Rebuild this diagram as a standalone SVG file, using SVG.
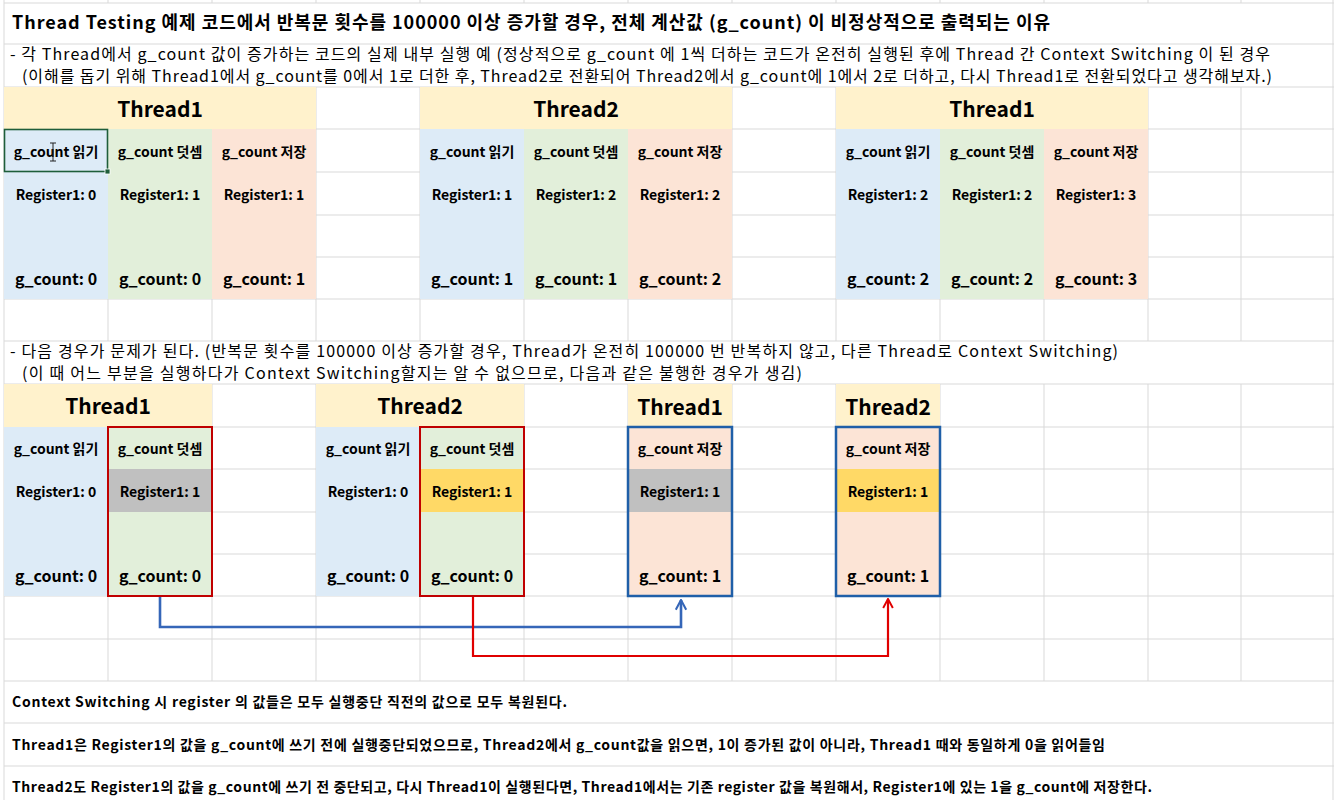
<svg xmlns="http://www.w3.org/2000/svg" width="1334" height="800" viewBox="0 0 1334 800">
<style>
.grid{stroke:#D9D9D9;stroke-width:1;fill:none}
.t{font-family:"Noto Sans CJK KR","Noto Sans",sans-serif;fill:#000}
.title{font-size:18px;font-weight:700}
.desc{font-size:16px;font-weight:400}
.hdr{font-size:21px;font-weight:700;text-anchor:middle;dominant-baseline:central}
.lbl{font-size:14px;font-weight:700;text-anchor:middle;dominant-baseline:central}
.val{font-size:16px;font-weight:700;text-anchor:middle;dominant-baseline:central}
.note{font-size:14px;font-weight:700}
.hf{fill:#FFF2CC}
.blue{fill:#DDEBF7}
.green{fill:#E2EFDA}
.peach{fill:#FCE4D6}
.gray{fill:#C0C0C0}
.yel{fill:#FFD966}
.redbox{fill:none;stroke:#C00000;stroke-width:2}
.bluebox{fill:none;stroke:#1F5FA8;stroke-width:2.5}
</style>
<defs>
<marker id="arB" viewBox="0 0 10 10" refX="9" refY="5" markerWidth="5" markerHeight="5" orient="auto" markerUnits="strokeWidth">
<path d="M1.5,1 L9,5 L1.5,9" fill="none" stroke="#3566B8" stroke-width="1.6"/>
</marker>
<marker id="arR" viewBox="0 0 10 10" refX="9" refY="5" markerWidth="5.5" markerHeight="5.5" orient="auto" markerUnits="strokeWidth">
<path d="M1.5,1 L9,5 L1.5,9" fill="none" stroke="#E00000" stroke-width="1.6"/>
</marker>
</defs>
<rect width="1334" height="800" fill="#FFFFFF"/>
<g id="grid" class="grid">
<path d="M4,3H1334 M4,44H1334 M4,87H1334 M4,129H1334 M4,172H1334 M4,215H1334 M4,257H1334 M4,299H1334 M4,341H1334 M4,384H1334 M4,427H1334 M4,469H1334 M4,512H1334 M4,554H1334 M4,596H1334 M4,639H1334 M4,681H1334 M4,723H1334 M4,766H1334"/>
<path d="M4,0V800 M1333,0V800"/>
<path d="M108,0V3 M212,0V3 M316,0V3 M420,0V3 M524,0V3 M628,0V3 M732,0V3 M836,0V3 M940,0V3 M1044,0V3 M1148,0V3 M1241,0V3"/>
<path d="M108,87V341 M212,87V341 M316,87V341 M420,87V341 M524,87V341 M628,87V341 M732,87V341 M836,87V341 M940,87V341 M1044,87V341 M1148,87V341 M1241,87V341"/>
<path d="M108,384V681 M212,384V681 M316,384V681 M420,384V681 M524,384V681 M628,384V681 M732,384V681 M836,384V681 M940,384V681 M1044,384V681 M1148,384V681 M1241,384V681"/>
</g>
<g id="title">
<text class="t title" x="12" y="29" textLength="1038" lengthAdjust="spacing">Thread Testing 예제 코드에서 반복문 횟수를 100000 이상 증가할 경우, 전체 계산값 (g_count) 이 비정상적으로 출력되는 이유</text>
</g>
<g id="desc1">
<text class="t desc" x="10" y="60" textLength="1260" lengthAdjust="spacing">- 각 Thread에서 g_count 값이 증가하는 코드의 실제 내부 실행 예 (정상적으로 g_count 에 1씩 더하는 코드가 온전히 실행된 후에 Thread 간 Context Switching 이 된 경우</text>
<text class="t desc" x="22" y="82" textLength="1250" lengthAdjust="spacing">(이해를 돕기 위해 Thread1에서 g_count를 0에서 1로 더한 후, Thread2로 전환되어 Thread2에서 g_count에 1에서 2로 더하고, 다시 Thread1로 전환되었다고 생각해보자.)</text>
</g>
<g id="top-thread1">
<rect class="hf" x="4" y="87" width="312" height="42"/>
<rect class="blue" x="4" y="129" width="104" height="170"/>
<rect class="green" x="108" y="129" width="104" height="170"/>
<rect class="peach" x="212" y="129" width="104" height="170"/>
<text class="t hdr" x="160" y="108">Thread1</text>
<text class="t lbl" x="56" y="151">g_count 읽기</text>
<text class="t lbl" x="160" y="151">g_count 덧셈</text>
<text class="t lbl" x="264" y="151">g_count 저장</text>
<text class="t lbl" x="56" y="194">Register1: 0</text>
<text class="t lbl" x="160" y="194">Register1: 1</text>
<text class="t lbl" x="264" y="194">Register1: 1</text>
<text class="t val" x="56" y="278">g_count: 0</text>
<text class="t val" x="160" y="278">g_count: 0</text>
<text class="t val" x="264" y="278">g_count: 1</text>
<rect x="4.5" y="129.5" width="103" height="42" fill="none" stroke="#1E5E3A" stroke-width="1.6"/>
<rect x="105" y="169" width="5" height="5" fill="#1E5E3A" stroke="#FFFFFF" stroke-width="0.8"/>
<path d="M53,143V161 M50,143H56 M50,161H56" stroke="#222" stroke-width="1" fill="none"/>
</g>
<g id="top-thread2">
<rect class="hf" x="420" y="87" width="312" height="42"/>
<rect class="blue" x="420" y="129" width="104" height="170"/>
<rect class="green" x="524" y="129" width="104" height="170"/>
<rect class="peach" x="628" y="129" width="104" height="170"/>
<text class="t hdr" x="576" y="108">Thread2</text>
<text class="t lbl" x="472" y="151">g_count 읽기</text>
<text class="t lbl" x="576" y="151">g_count 덧셈</text>
<text class="t lbl" x="680" y="151">g_count 저장</text>
<text class="t lbl" x="472" y="194">Register1: 1</text>
<text class="t lbl" x="576" y="194">Register1: 2</text>
<text class="t lbl" x="680" y="194">Register1: 2</text>
<text class="t val" x="472" y="278">g_count: 1</text>
<text class="t val" x="576" y="278">g_count: 1</text>
<text class="t val" x="680" y="278">g_count: 2</text>
</g>
<g id="top-thread1b">
<rect class="hf" x="836" y="87" width="312" height="42"/>
<rect class="blue" x="836" y="129" width="104" height="170"/>
<rect class="green" x="940" y="129" width="104" height="170"/>
<rect class="peach" x="1044" y="129" width="104" height="170"/>
<text class="t hdr" x="992" y="108">Thread1</text>
<text class="t lbl" x="888" y="151">g_count 읽기</text>
<text class="t lbl" x="992" y="151">g_count 덧셈</text>
<text class="t lbl" x="1096" y="151">g_count 저장</text>
<text class="t lbl" x="888" y="194">Register1: 2</text>
<text class="t lbl" x="992" y="194">Register1: 2</text>
<text class="t lbl" x="1096" y="194">Register1: 3</text>
<text class="t val" x="888" y="278">g_count: 2</text>
<text class="t val" x="992" y="278">g_count: 2</text>
<text class="t val" x="1096" y="278">g_count: 3</text>
</g>
<g id="desc2">
<text class="t desc" x="10" y="357" textLength="1108" lengthAdjust="spacing">- 다음 경우가 문제가 된다. (반복문 횟수를 100000 이상 증가할 경우, Thread가 온전히 100000 번 반복하지 않고, 다른 Thread로 Context Switching)</text>
<text class="t desc" x="22" y="379" textLength="780" lengthAdjust="spacing">(이 때 어느 부분을 실행하다가 Context Switching할지는 알 수 없으므로, 다음과 같은 불행한 경우가 생김)</text>
</g>
<g id="bot-thread1">
<rect class="hf" x="4" y="384" width="208" height="43"/>
<rect class="blue" x="4" y="427" width="104" height="169"/>
<rect class="green" x="108" y="427" width="104" height="169"/>
<rect class="gray" x="108" y="469" width="104" height="43"/>
<rect class="redbox" x="108" y="427" width="104" height="169"/>
<text class="t hdr" x="108" y="405">Thread1</text>
<text class="t lbl" x="56" y="448">g_count 읽기</text>
<text class="t lbl" x="160" y="448">g_count 덧셈</text>
<text class="t lbl" x="56" y="491">Register1: 0</text>
<text class="t lbl" x="160" y="491">Register1: 1</text>
<text class="t val" x="56" y="575">g_count: 0</text>
<text class="t val" x="160" y="575">g_count: 0</text>
</g>
<g id="bot-thread2">
<rect class="hf" x="316" y="384" width="208" height="43"/>
<rect class="blue" x="316" y="427" width="104" height="169"/>
<rect class="green" x="420" y="427" width="104" height="169"/>
<rect class="yel" x="420" y="469" width="104" height="43"/>
<rect class="redbox" x="420" y="427" width="104" height="169"/>
<text class="t hdr" x="420" y="405">Thread2</text>
<text class="t lbl" x="368" y="448">g_count 읽기</text>
<text class="t lbl" x="472" y="448">g_count 덧셈</text>
<text class="t lbl" x="368" y="491">Register1: 0</text>
<text class="t lbl" x="472" y="491">Register1: 1</text>
<text class="t val" x="368" y="575">g_count: 0</text>
<text class="t val" x="472" y="575">g_count: 0</text>
</g>
<g id="bot-thread1-store">
<rect class="hf" x="628" y="384" width="104" height="43"/>
<rect class="peach" x="628" y="427" width="104" height="169"/>
<rect class="gray" x="628" y="469" width="104" height="43"/>
<rect class="bluebox" x="628" y="427" width="104" height="169"/>
<text class="t hdr" x="680" y="406">Thread1</text>
<text class="t lbl" x="680" y="448">g_count 저장</text>
<text class="t lbl" x="680" y="491">Register1: 1</text>
<text class="t val" x="680" y="575">g_count: 1</text>
</g>
<g id="bot-thread2-store">
<rect class="hf" x="836" y="384" width="104" height="43"/>
<rect class="peach" x="836" y="427" width="104" height="169"/>
<rect class="yel" x="836" y="469" width="104" height="43"/>
<rect class="bluebox" x="836" y="427" width="104" height="169"/>
<text class="t hdr" x="888" y="406">Thread2</text>
<text class="t lbl" x="888" y="448">g_count 저장</text>
<text class="t lbl" x="888" y="491">Register1: 1</text>
<text class="t val" x="888" y="575">g_count: 1</text>
</g>
<g id="connectors" fill="none">
<path d="M160,597V627H681V600" stroke="#3566B8" stroke-width="2.6" marker-end="url(#arB)"/>
<path d="M473,597V656H888V599" stroke="#E00000" stroke-width="2.2" marker-end="url(#arR)"/>
</g>
<g id="notes">
<text class="t note" x="12" y="707" textLength="555" lengthAdjust="spacing">Context Switching 시 register 의 값들은 모두 실행중단 직전의 값으로 모두 복원된다.</text>
<text class="t note" x="12" y="750" textLength="1093" lengthAdjust="spacing">Thread1은 Register1의 값을 g_count에 쓰기 전에 실행중단되었으므로, Thread2에서 g_count값을 읽으면, 1이 증가된 값이 아니라, Thread1 때와 동일하게 0을 읽어들임</text>
<text class="t note" x="12" y="792" textLength="1140" lengthAdjust="spacing">Thread2도 Register1의 값을 g_count에 쓰기 전 중단되고, 다시 Thread1이 실행된다면, Thread1에서는 기존 register 값을 복원해서, Register1에 있는 1을 g_count에 저장한다.</text>
</g>
</svg>
